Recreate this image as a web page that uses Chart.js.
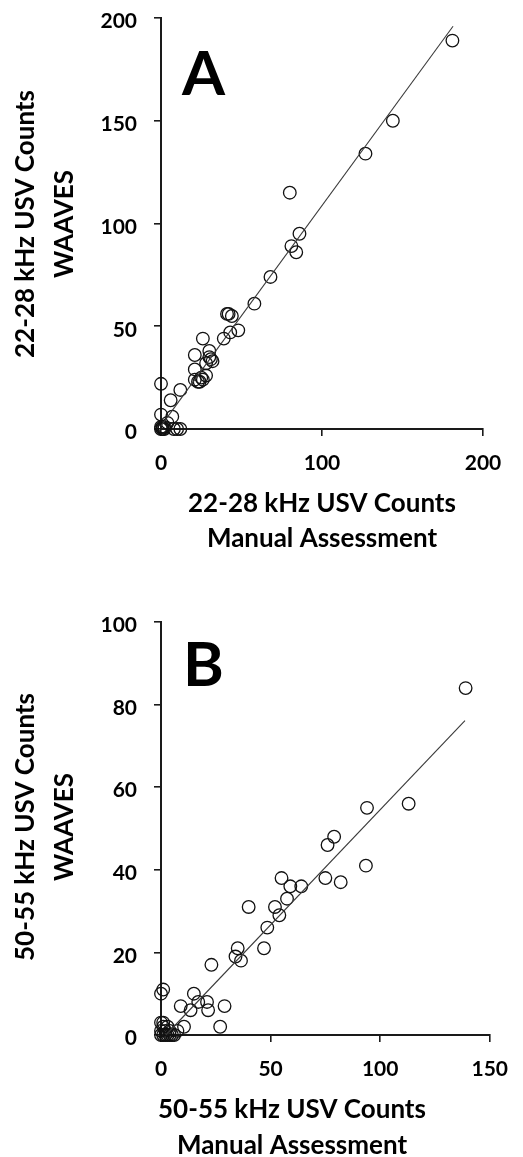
<!DOCTYPE html>
<html>
<head>
<meta charset="utf-8">
<title>USV counts: WAAVES vs manual assessment</title>
<script src="https://cdn.jsdelivr.net/npm/chart.js@4.4.1/dist/chart.umd.min.js"></script>
<style>
  html, body { margin: 0; padding: 0; background: #fff; }
  body { width: 523px; height: 1157px; position: relative; overflow: hidden; }
  canvas { position: absolute; left: 0; }
  #chartA { top: -20px; }
  #chartB { top: 580px; }
</style>
</head>
<body>
<canvas id="chartA" width="523" height="580"></canvas>
<canvas id="chartB" width="523" height="577"></canvas>
<script>
// Panel A: 22-28 kHz calls, manual count (x) vs WAAVES count (y)
const manual22 = [181, 144, 127, 80, 86, 81, 84, 68, 58, 41, 42, 44, 48, 43, 39, 26, 30, 21, 30, 32, 31, 28, 21, 28, 21, 24, 23, 25, 26,
                  0, 12, 6, 0, 7, 4, 0, 1, 2, 0, 1, 2, 10, 12, 8];
const waaves22 = [189, 150, 134, 115, 95, 89, 86, 74, 61, 56, 56, 55, 48, 47, 44, 44, 38, 36, 35, 33, 34, 32, 29, 26, 24, 23, 23, 25, 24,
                  22, 19, 14, 7, 6, 3, 0, 0, 0, 1, 1, 1, 0, 0, 0];
// linear fit for panel A (ends of the drawn trend line)
const fit22X = [0, 181.4];
const fit22Y = [1.5, 196];

// Panel B: 50-55 kHz calls
const manual50 = [139, 94, 113, 79, 76, 93.5, 75, 82, 55, 59, 64, 57.5, 52, 54, 40, 48.5, 47, 35, 34, 36.5, 23,
                  1, 0, 15, 9, 13.5, 17, 21, 21.5, 29, 27, 10.5, 7.5, 1, 0, 0, 1, 2, 3, 4, 5, 2, 0, 3, 6, 1, 4];
const waaves50 = [84, 55, 56, 48, 46, 41, 38, 37, 38, 36, 36, 33, 31, 29, 31, 26, 21, 21, 19, 18, 17,
                  11, 10, 10, 7, 6, 8, 8, 6, 7, 2, 2, 1, 3, 3, 0, 0, 0, 0, 1, 0, 1, 1, 2, 0, 2, 0];
const fit50X = [2.2, 138.7];
const fit50Y = [0, 76.1];

// Axis ticks
const ticks22X = [0, 100, 200];
const ticks22Y = [0, 50, 100, 150, 200];
const ticks50X = [0, 50, 100, 150];
const ticks50Y = [0, 20, 40, 60, 80, 100];

// Axis captions and panel letters
const titleXA = ['22-28 kHz USV Counts', 'Manual Assessment'];
const titleYA = ['22-28 kHz USV Counts', 'WAAVES'];
const titleXB = ['50-55 kHz USV Counts', 'Manual Assessment'];
const titleYB = ['50-55 kHz USV Counts', 'WAAVES'];

const FONT = 'Lato, "Open Sans", sans-serif';

function pairs(xs, ys) {
  return xs.map((x, i) => ({ x: x, y: ys[i] }));
}

// Draws the two-line axis captions and the big panel letter
const captionPlugin = {
  id: 'captions',
  afterDraw(chart, args, o) {
    const ctx = chart.ctx;
    ctx.save();
    ctx.fillStyle = '#000';
    ctx.textAlign = 'center';
    ctx.textBaseline = 'alphabetic';
    ctx.font = 'bold ' + o.titleSize + 'px ' + FONT;
    o.xTitle.forEach((line, i) => {
      ctx.fillText(line, o.xTitleCenter, o.xTitleBaselines[i]);
    });
    o.yTitle.forEach((line, i) => {
      ctx.save();
      ctx.translate(o.yTitleBaselines[i], o.yTitleCenter);
      ctx.rotate(-Math.PI / 2);
      ctx.fillText(line, 0, 0);
      ctx.restore();
    });
    ctx.textAlign = 'left';
    ctx.font = 'bold ' + o.letterSize + 'px ' + FONT;
    ctx.fillText(o.letter, o.letterX, o.letterY);
    ctx.restore();
  }
};

function makeChart(id, cfg) {
  const axisX = {
    type: 'linear',
    min: cfg.xTicks[0],
    max: cfg.xTicks[cfg.xTicks.length - 1],
    afterBuildTicks: s => { s.ticks = cfg.xTicks.map(v => ({ value: v })); },
    afterFit: s => { s.height = cfg.xAxisHeight; },
    border: { display: true, color: '#1a1a1a', width: 2 },
    grid: { drawOnChartArea: false, drawTicks: true, tickLength: 7, color: '#1a1a1a', lineWidth: 1.6 },
    ticks: { padding: 15, color: '#000', font: { family: FONT, size: 21, weight: 'bold' }, maxRotation: 0 }
  };
  const axisY = {
    type: 'linear',
    min: cfg.yTicks[0],
    max: cfg.yTicks[cfg.yTicks.length - 1],
    afterBuildTicks: s => { s.ticks = cfg.yTicks.map(v => ({ value: v })); },
    afterFit: s => { s.width = cfg.yAxisWidth; },
    border: { display: true, color: '#1a1a1a', width: 2 },
    grid: { drawOnChartArea: false, drawTicks: true, tickLength: 7, color: '#1a1a1a', lineWidth: 1.6 },
    ticks: { padding: 17, labelOffset: 3.5, color: '#000', font: { family: FONT, size: 21, weight: 'bold' } }
  };
  return new Chart(document.getElementById(id), {
    type: 'scatter',
    data: {
      datasets: [
        {
          label: 'Linear fit',
          type: 'line',
          data: pairs(cfg.fitX, cfg.fitY),
          borderColor: '#3a3a3a',
          borderWidth: 1.1,
          pointRadius: 0,
          fill: false,
          clip: false
        },
        {
          label: 'Sessions',
          data: pairs(cfg.xs, cfg.ys),
          pointStyle: 'circle',
          pointRadius: 6.3,
          pointBorderWidth: 1.3,
          borderColor: '#111',
          backgroundColor: 'rgba(0,0,0,0)',
          clip: false
        }
      ]
    },
    options: {
      responsive: false,
      animation: false,
      devicePixelRatio: 1,
      layout: { padding: cfg.padding },
      scales: { x: axisX, y: axisY },
      plugins: {
        legend: { display: false },
        tooltip: { enabled: false },
        captions: cfg.captions
      }
    },
    plugins: [captionPlugin]
  });
}

function build() {
  // canvas A sits 20px above the page top, so its own coordinates are page y + 20
  makeChart('chartA', {
    xs: manual22, ys: waaves22, fitX: fit22X, fitY: fit22Y,
    xTicks: ticks22X, yTicks: ticks22Y,
    padding: { left: 0, top: 38, right: 40, bottom: 0 },
    yAxisWidth: 161, xAxisHeight: 131,
    captions: {
      titleSize: 26, letterSize: 62, letter: 'A', letterX: 182, letterY: 115,
      xTitle: titleXA, xTitleCenter: 322, xTitleBaselines: [532, 567],
      yTitle: titleYA, yTitleCenter: 244, yTitleBaselines: [34, 73]
    }
  });
  makeChart('chartB', {
    xs: manual50, ys: waaves50, fitX: fit50X, fitY: fit50Y,
    xTicks: ticks50X, yTicks: ticks50Y,
    padding: { left: 0, top: 42, right: 21, bottom: 0 },
    yAxisWidth: 161, xAxisHeight: 122,
    captions: {
      titleSize: 26, letterSize: 62, letter: 'B', letterX: 183, letterY: 106,
      xTitle: titleXB, xTitleCenter: 292, xTitleBaselines: [538, 574],
      yTitle: titleYB, yTitleCenter: 247, yTitleBaselines: [34, 73]
    }
  });
}

if (document.fonts && document.fonts.load) {
  Promise.all([document.fonts.load('bold 21px Lato'), document.fonts.load('bold 62px Lato')])
    .then(build, build);
} else {
  build();
}
</script>
</body>
</html>
